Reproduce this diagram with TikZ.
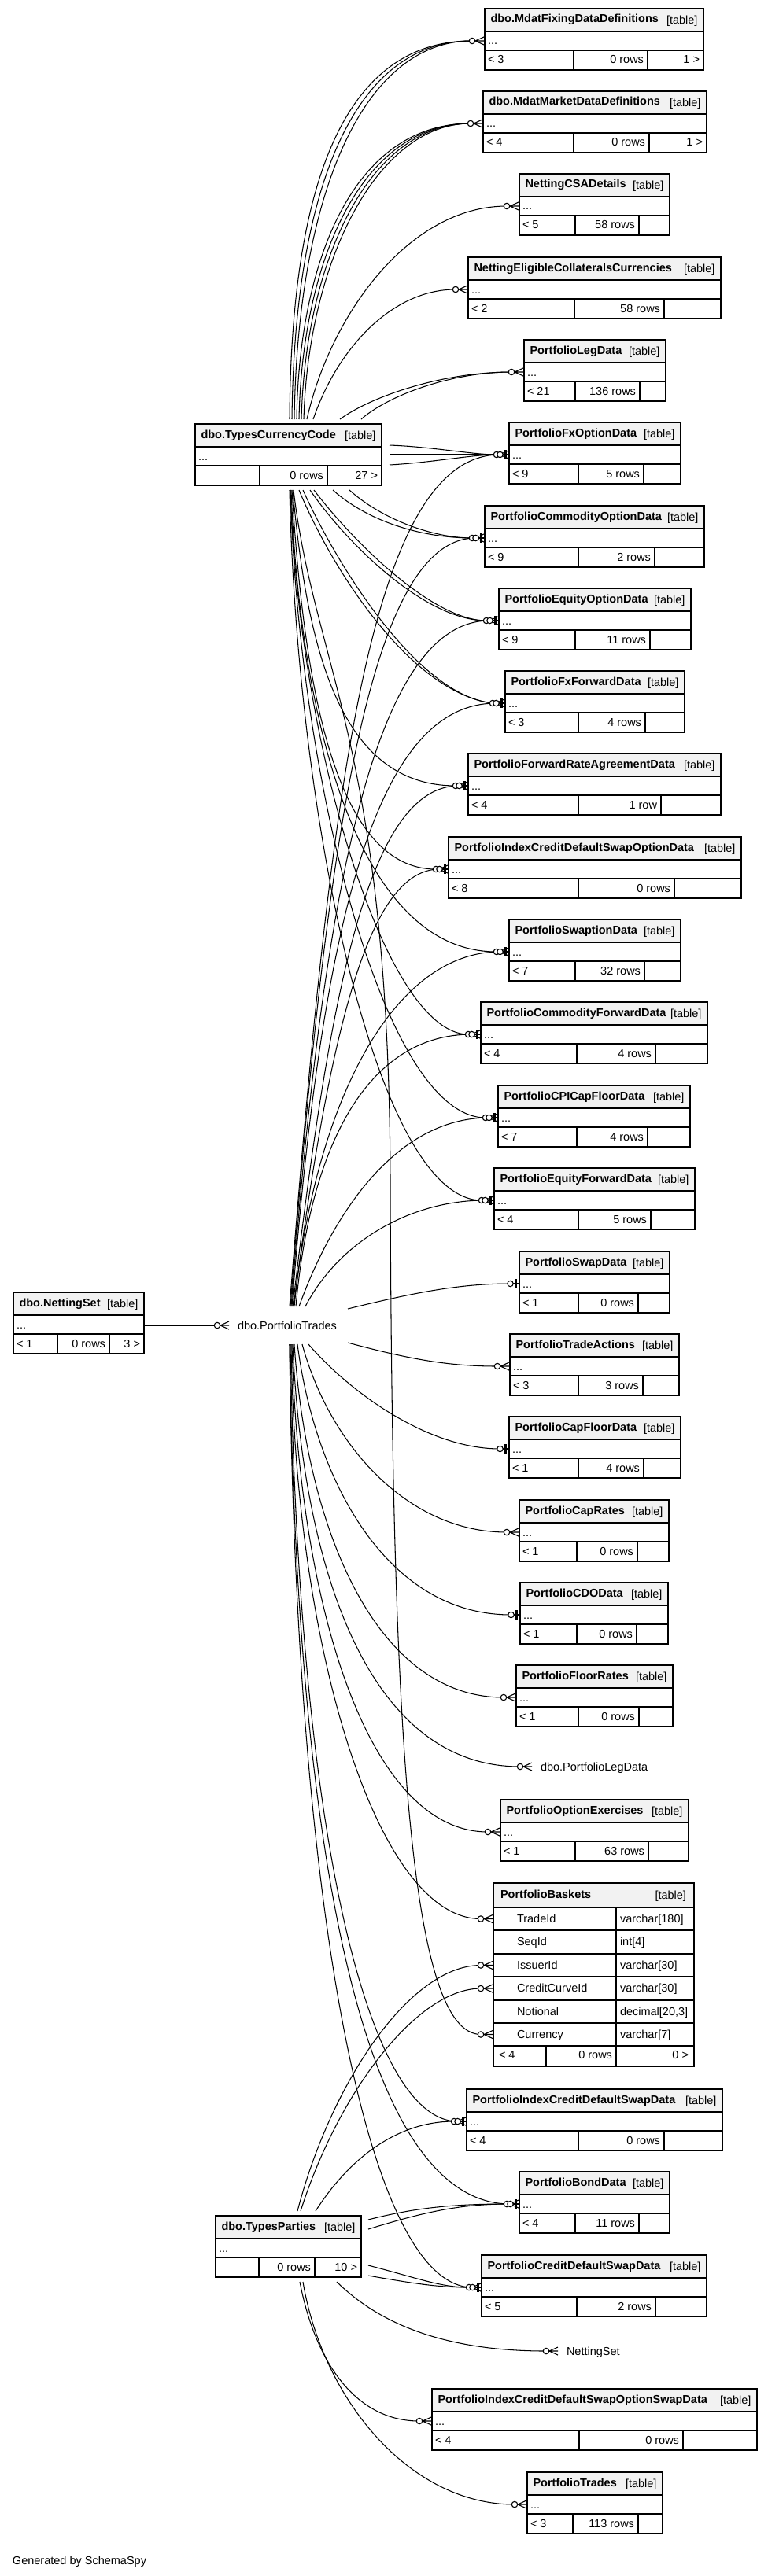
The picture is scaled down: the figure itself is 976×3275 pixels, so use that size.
\documentclass[tikz,border=0pt]{standalone}
\usepackage{fontspec}
\setmainfont{Liberation Sans}
\definecolor{hdr}{RGB}{242,242,242}
\newcommand\tfont{\fontsize{14.5}{17}\selectfont}
\tikzset{
  txt/.style={inner sep=0pt, outer sep=0pt, font=\tfont},
  btxt/.style={inner sep=0pt, outer sep=0pt, font=\tfont\bfseries},
  tbox/.style={inner sep=0pt, outer sep=0pt, minimum height=78pt, anchor=north west, fill=white},
  outerline/.style={line width=1.3pt},
  sepline/.style={line width=1.6pt},
  cellline/.style={line width=1.1pt},
  edgeline/.style={line width=1.05pt},
  mk/.style={line width=1.1pt},
}
% compact table: name, title, L, R, T, d1, d2, f1, f2, f3
\newcommand\ctab[9]{\def\qN{#1}\def\qTitle{#2}\def\qL{#3}\def\qR{#4}\def\qT{#5}\def\qDa{#6}\def\qDb{#7}\def\qFa{#8}\def\qFb{#9}\ctabrest}
\newcommand\ctabrest[1]{%
  \pgfmathsetmacro\qW{\qR-\qL}%
  \node[tbox, minimum width=\qW pt] (\qN) at (\qL,\qT) {};
  \fill[hdr] (\qL,\qT) rectangle (\qR,\qT+29);
  \draw[sepline] (\qL,\qT+29) -- (\qR,\qT+29);
  \draw[cellline] (\qL,\qT+53) -- (\qR,\qT+53);
  \draw[cellline] (\qDa,\qT+53) -- (\qDa,\qT+78) (\qDb,\qT+53) -- (\qDb,\qT+78);
  \draw[outerline] (\qL,\qT) rectangle (\qR,\qT+78);
  \node[btxt, anchor=base west] (\qN-title) at (\qL+7.5,\qT+18) {\qTitle};
  \node[txt, anchor=base east] (\qN-tag) at (\qR-7.5,\qT+19.5) {[table]};
  \node[txt, anchor=base west] (\qN-dots) at (\qL+4,\qT+46) {...};
  \node[txt, anchor=base west] (\qN-fa) at (\qL+4,\qT+70) {\qFa};
  \node[txt, anchor=base east] (\qN-fb) at (\qDb-5,\qT+70) {\qFb};
  \node[txt, anchor=base east] (\qN-fc) at (\qR-5,\qT+70) {#1};
  \coordinate (\qN-c) at (\qL-16,\qT+41);
  \coordinate (\qN-t) at (\qL-11.5,\qT+41);
}
\newcommand\edg[5]{\coordinate (#1) at (#2); \draw[edgeline] (#1) .. controls (#3) and (#4) .. (#5);}
\newcommand\crowm[1]{%
  \draw[mk] (#1) ++(4,0) -- ++(11,-5) (#1) ++(4,0) -- ++(11,5) (#1) ++(4,0) -- ++(11,0);
  \draw[mk, fill=white] (#1) circle[radius=3.7];}
\newcommand\teem[1]{%
  \draw[mk] (#1) ++(3.7,0) -- ++(7.8,0);
  \fill (#1) ++(5,-6) rectangle ++(3.5,12);
  \draw[mk, fill=white] (#1) circle[radius=3.7];}
\begin{document}
\begin{tikzpicture}[x=1pt, y=-1pt]
\useasboundingbox (0,0) rectangle (976,3275);
\fill[white] (0,0) rectangle (976,3275);
% ---------- tables ----------
\ctab{mfix}{dbo.MdatFixingDataDefinitions}{616}{894}{11}{729}{823}{< 3}{0 rows}{1 >}
\ctab{mmkt}{dbo.MdatMarketDataDefinitions}{614}{898}{116}{729}{825}{< 4}{0 rows}{1 >}
\ctab{ncsa}{NettingCSADetails}{660}{851}{221}{731}{812}{< 5}{58 rows}{}
\ctab{nelig}{NettingEligibleCollateralsCurrencies}{595}{916}{327}{730}{844}{< 2}{58 rows}{}
\ctab{pleg}{PortfolioLegData}{666}{846}{432}{731}{813}{< 21}{136 rows}{}
\ctab{pfxo}{PortfolioFxOptionData}{647}{865}{537}{735}{818}{< 9}{5 rows}{}
\ctab{pcomo}{PortfolioCommodityOptionData}{616}{895}{643}{735}{832}{< 9}{2 rows}{}
\ctab{peqo}{PortfolioEquityOptionData}{634}{878}{748}{731}{826}{< 9}{11 rows}{}
\ctab{pfxf}{PortfolioFxForwardData}{642}{870}{853}{735}{820}{< 3}{4 rows}{}
\ctab{pfra}{PortfolioForwardRateAgreementData}{595}{916}{958}{735}{840}{< 4}{1 row}{}
\ctab{picdso}{PortfolioIndexCreditDefaultSwapOptionData}{570}{942}{1064}{735}{857}{< 8}{0 rows}{}
\ctab{pswpt}{PortfolioSwaptionData}{647}{865}{1169}{731}{819}{< 7}{32 rows}{}
\ctab{pcomf}{PortfolioCommodityForwardData}{611}{899}{1274}{733}{833}{< 4}{4 rows}{}
\ctab{pcpi}{PortfolioCPICapFloorData}{633}{877}{1380}{733}{823}{< 7}{4 rows}{}
\ctab{peqf}{PortfolioEquityForwardData}{628}{883}{1485}{735}{827}{< 4}{5 rows}{}
\ctab{pswap}{PortfolioSwapData}{660}{851}{1591}{735}{811}{< 1}{0 rows}{}
\ctab{pta}{PortfolioTradeActions}{648}{863}{1696}{735}{817}{< 3}{3 rows}{}
\ctab{pcf}{PortfolioCapFloorData}{647}{865}{1801}{735}{818}{< 1}{4 rows}{}
\ctab{pcr}{PortfolioCapRates}{660}{850}{1907}{733}{810}{< 1}{0 rows}{}
\ctab{pcdo}{PortfolioCDOData}{661}{849}{2012}{733}{809}{< 1}{0 rows}{}
\ctab{pfr}{PortfolioFloorRates}{656}{855}{2117}{735}{812}{< 1}{0 rows}{}
\ctab{poe}{PortfolioOptionExercises}{636}{875}{2288}{731}{824}{< 1}{63 rows}{}
\ctab{picds}{PortfolioIndexCreditDefaultSwapData}{593}{918}{2656}{735}{844}{< 4}{0 rows}{}
\ctab{pbond}{PortfolioBondData}{660}{851}{2761}{731}{812}{< 4}{11 rows}{}
\ctab{pcds}{PortfolioCreditDefaultSwapData}{612}{898}{2867}{733}{833}{< 5}{2 rows}{}
\ctab{picdsos}{PortfolioIndexCreditDefaultSwapOptionSwapData}{549}{962}{3037}{736}{868}{< 4}{0 rows}{}
\ctab{ptrades}{PortfolioTrades}{670}{842}{3143}{728}{811}{< 3}{113 rows}{}
\ctab{tcc}{dbo.TypesCurrencyCode}{248}{485}{539}{330}{416}{}{0 rows}{27 >}
\ctab{nset}{dbo.NettingSet}{17}{183}{1643}{73}{139}{< 1}{0 rows}{3 >}
\ctab{tparties}{dbo.TypesParties}{274}{459}{2817}{329}{400}{}{0 rows}{10 >}
% ---------- PortfolioBaskets ----------
\node[tbox, minimum width=255pt, minimum height=233pt] (pbask) at (627,2394) {};
\fill[hdr] (627,2394) rectangle (882,2425);
\foreach \yy in {2425,2454,2484,2513,2543,2572,2601} {\draw[sepline] (627,\yy) -- (882,\yy);}
\draw[sepline] (783,2425) -- (783,2627);
\draw[cellline] (694,2601) -- (694,2627);
\draw[line width=2.6pt] (627,2394) rectangle (882,2627);
\node[btxt, anchor=base west] (pbask-title) at (636,2413) {PortfolioBaskets};
\node[txt, anchor=base east] (pbask-tag) at (872,2414.5) {[table]};
\node[txt, anchor=base west] (pbask-r1) at (657,2444) {TradeId};
\node[txt, anchor=base west] (pbask-r2) at (657,2473) {SeqId};
\node[txt, anchor=base west] (pbask-r3) at (657,2503) {IssuerId};
\node[txt, anchor=base west] (pbask-r4) at (657,2532) {CreditCurveId};
\node[txt, anchor=base west] (pbask-r5) at (657,2562) {Notional};
\node[txt, anchor=base west] (pbask-r6) at (657,2591) {Currency};
\node[txt, anchor=base west] (pbask-y1) at (788,2444) {varchar[180]};
\node[txt, anchor=base west] (pbask-y2) at (788,2473) {int[4]};
\node[txt, anchor=base west] (pbask-y3) at (788,2503) {varchar[30]};
\node[txt, anchor=base west] (pbask-y4) at (788,2532) {varchar[30]};
\node[txt, anchor=base west] (pbask-y5) at (788,2562) {decimal[20,3]};
\node[txt, anchor=base west] (pbask-y6) at (788,2591) {varchar[7]};
\node[txt, anchor=base west] (pbask-fa) at (634,2617) {< 4};
\node[txt, anchor=base east] (pbask-fb) at (778,2617) {0 rows};
\node[txt, anchor=base east] (pbask-fc) at (875,2617) {0 >};
\coordinate (pbask-trade) at (611,2439.5);
\coordinate (pbask-issuer) at (611,2498.5);
\coordinate (pbask-credit) at (611,2528);
\coordinate (pbask-ccy) at (611,2586.5);
% ---------- stub labels ----------
\node[txt, anchor=base west] (hub) at (302,1690) {dbo.PortfolioTrades};
\coordinate (hub-c) at (276,1685);
\node[txt, anchor=base west] (legstub) at (687,2251) {dbo.PortfolioLegData};
\coordinate (legstub-c) at (661,2246);
\node[txt, anchor=base west] (nsstub) at (720,2994.5) {NettingSet};
\coordinate (nsstub-c) at (694,2989);
\node[txt, anchor=base west] (gen) at (16,3260) {Generated by SchemaSpy};
% ---------- edges from dbo.TypesCurrencyCode ----------
\edg{a1}{368,533}{370,250}{430,52}{mfix-c}
\edg{a2}{371,533}{374,250}{445,52}{mfix-c}
\edg{a3}{374,533}{378,250}{460,52}{mfix-c}
\edg{a4}{377,533}{380,330}{450,157}{mmkt-c}
\edg{a5}{380,533}{384,330}{460,157}{mmkt-c}
\edg{a6}{383,533}{388,330}{470,157}{mmkt-c}
\edg{a7}{386,533}{392,330}{480,157}{mmkt-c}
\edg{a8}{390,533}{420,400}{520,262}{ncsa-c}
\edg{a9}{398,533}{430,440}{500,368}{nelig-c}
\edg{a10}{432,533}{470,505}{560,473}{pleg-c}
\edg{a11}{459,533}{490,505}{570,473}{pleg-c}
\edg{a12}{495,566}{550,568}{600,578}{pfxo-c}
\edg{a13}{495,578}{550,578}{600,578}{pfxo-c}
\edg{a14}{495,591}{550,588}{600,578}{pfxo-c}
\edg{a15}{423,623}{470,665}{540,684}{pcomo-c}
\edg{a16}{444,623}{485,660}{550,684}{pcomo-c}
\edg{a17}{394,623}{440,690}{540,789}{peqo-c}
\edg{a18}{399,623}{448,688}{550,789}{peqo-c}
\edg{a19}{380,623}{420,720}{520,880}{pfxf-c}
\edg{a20}{385,623}{428,718}{530,884}{pfxf-c}
\edg{a21}{372,623}{390,820}{430,999}{pfra-c}
\edg{a22}{371,623}{385,850}{420,1105}{picdso-c}
\edg{a23}{370,623}{380,900}{450,1210}{pswpt-c}
\edg{a24}{369,623}{380,950}{490,1315}{pcomf-c}
\edg{a25}{369,623}{380,1000}{490,1421}{pcpi-c}
\edg{a26}{368,623}{378,1050}{480,1526}{peqf-c}
\coordinate (a27) at (373,623);
\draw[edgeline] (a27) .. controls (400,850) and (494,950) .. (496,1500) .. controls (498,2200) and (520,2586) .. (pbask-ccy);
% ---------- edges from dbo.PortfolioTrades ----------
\coordinate (nset-r) at (183,1685);
\draw[edgeline] (nset-r) -- (hub-c);
\edg{h1}{368,1661}{420,1000}{470,578}{pfxo-t}
\edg{h2}{369,1661}{415,1060}{470,684}{pcomo-t}
\edg{h3}{370,1661}{412,1110}{480,789}{peqo-t}
\edg{h4}{371,1661}{410,1160}{480,894}{pfxf-t}
\edg{h5}{372,1661}{420,1250}{470,999}{pfra-t}
\edg{h6}{373,1661}{420,1300}{470,1105}{picdso-t}
\edg{h7}{374,1661}{400,1400}{500,1210}{pswpt-t}
\edg{h8}{376,1661}{395,1450}{470,1315}{pcomf-t}
\edg{h9}{380,1661}{420,1550}{500,1421}{pcpi-t}
\edg{h10}{388,1661}{430,1580}{520,1526}{peqf-t}
\edg{h11}{442,1664}{520,1645}{580,1632}{pswap-t}
\edg{h12}{442,1707}{520,1728}{570,1737}{pta-c}
\edg{h13}{392,1709}{440,1765}{540,1842}{pcf-t}
\edg{h14}{384,1709}{420,1840}{520,1948}{pcr-c}
\edg{h15}{378,1709}{400,1880}{490,2053}{pcdo-t}
\edg{h16}{374,1709}{390,1950}{480,2158}{pfr-c}
\edg{h17}{372,1709}{385,2000}{470,2246}{legstub-c}
\edg{h18}{371,1709}{380,2050}{470,2329}{poe-c}
\edg{h19}{370,1709}{375,2100}{480,2439.5}{pbask-trade}
\edg{h20}{369,1709}{380,2350}{470,2697}{picds-t}
\edg{h21}{368,1709}{378,2400}{470,2802}{pbond-t}
\edg{h22}{368,1709}{376,2450}{470,2908}{pcds-t}
% ---------- edges from dbo.TypesParties ----------
\edg{p1}{378,2811}{420,2650}{520,2498.5}{pbask-issuer}
\edg{p2}{382,2811}{430,2660}{530,2528}{pbask-credit}
\edg{p3}{401,2811}{440,2750}{500,2697}{picds-c}
\edg{p4}{468,2822}{530,2806}{580,2802}{pbond-c}
\edg{p5}{468,2834}{530,2815}{580,2802}{pbond-c}
\edg{p6}{468,2880}{530,2896}{560,2908}{pcds-c}
\edg{p7}{468,2893}{530,2904}{560,2908}{pcds-c}
\edg{p8}{428,2901}{490,2962}{580,2989}{nsstub-c}
\edg{p9}{381,2901}{400,3000}{450,3078}{picdsos-c}
\edg{p10}{385,2901}{410,3050}{520,3184}{ptrades-c}
% ---------- markers ----------
\foreach \m in {mfix-c,mmkt-c,ncsa-c,nelig-c,pleg-c,pfxo-c,pcomo-c,peqo-c,pfxf-c,pfra-c,picdso-c,pswpt-c,pcomf-c,pcpi-c,peqf-c,pbask-ccy,pta-c,pcr-c,pfr-c,legstub-c,poe-c,pbask-trade,pbask-issuer,pbask-credit,picds-c,pbond-c,pcds-c,nsstub-c,picdsos-c,ptrades-c,hub-c} {\crowm{\m}}
\foreach \m in {pfxo-t,pcomo-t,peqo-t,pfxf-t,pfra-t,picdso-t,pswpt-t,pcomf-t,pcpi-t,peqf-t,pswap-t,pcf-t,pcdo-t,picds-t,pbond-t,pcds-t} {\teem{\m}}
\end{tikzpicture}
\end{document}
